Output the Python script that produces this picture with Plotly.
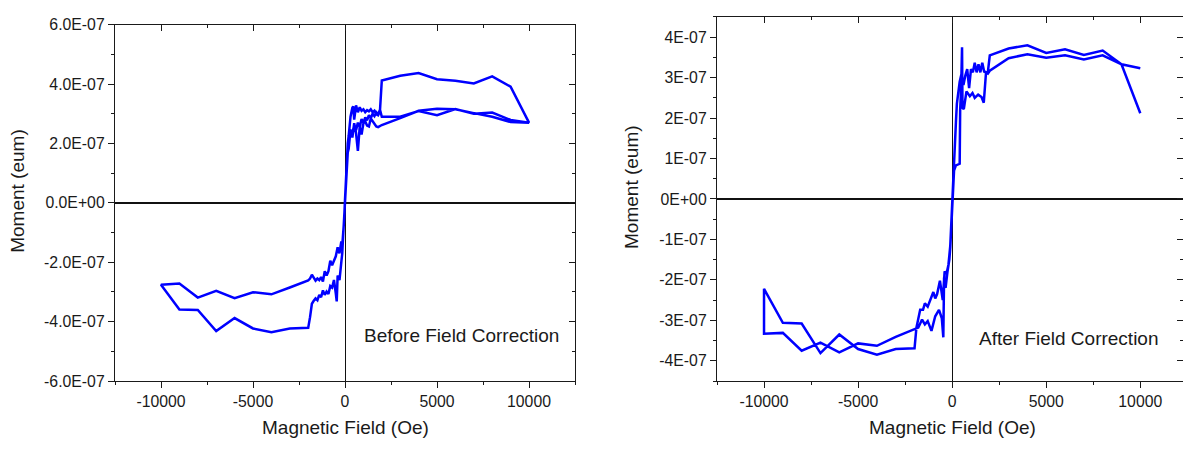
import numpy as np
import plotly.graph_objects as go

SCALE = 1e-7  # moment values below are in units of 1E-07 emu

# ---------------- Left panel: "Before Field Correction" ----------------
# pass A: initial curve 0 -> +10000 Oe
left_A_H = [0, 50, 100, 150, 200, 300, 400, 450, 500, 600, 700, 800, 900, 1000, 1100, 1200,
            1300, 1400, 1500, 1600, 1700, 1800, 1900, 2000, 3000, 4000, 5000, 6000, 7000,
            8000, 9000, 10000]
left_A_M = [0.0, 0.9, 1.6, 2.0, 2.25, 2.9, 3.2, 3.25, 2.8, 3.28, 3.05, 3.22, 3.1, 3.15, 3.05,
            3.12, 3.08, 3.15, 3.05, 3.1, 2.98, 2.95, 3.1, 4.12, 4.28, 4.37, 4.16, 4.11, 4.02,
            4.26, 3.91, 2.70]
# pass B: +10000 -> -10000 Oe
left_B_H = [10000, 9000, 8000, 7000, 6000, 5000, 4000, 3000, 2000,
            1900, 1800, 1700, 1600, 1500, 1400, 1300, 1200, 1100, 1000,
            900, 800, 700, 600, 500, 400, 300, 200,
            150, 100, 50, 0, -50, -100, -150, -200,
            -300, -400, -500, -600, -700, -800, -900, -1000,
            -1100, -1200, -1300, -1400, -1500, -1600, -1700, -1800, -1900, -2000,
            -3000, -4000, -5000, -6000, -7000, -8000, -9000, -10000]
left_B_M = [2.70, 2.79, 3.04, 3.00, 3.16, 2.95, 3.09, 2.90, 2.90,
            3.14, 2.98, 3.05, 2.92, 3.0, 2.85, 2.95, 2.78, 2.88, 2.7,
            2.82, 2.55, 2.7, 2.45, 2.62, 2.35, 2.45, 2.25,
            2.0, 1.5, 0.8, 0.1, -0.6, -1.2, -1.45, -1.3,
            -1.7, -1.5, -1.8, -1.95, -2.1, -1.95, -2.3, -2.45,
            -2.3, -2.65, -2.5, -2.6, -2.55, -2.62, -2.5, -2.42, -2.55, -2.61,
            -2.85, -3.08, -3.01, -3.21, -2.96, -3.19, -2.72, -2.76]
# pass C: -10000 -> +10000 Oe
left_C_H = [-10000, -9000, -8000, -7000, -6000, -5000, -4000, -3000, -2000,
            -1900, -1800, -1700, -1600, -1500, -1400, -1300, -1200, -1100, -1000,
            -900, -800, -700, -600, -500, -450, -400, -300, -200,
            -150, -100, -50, 0, 50, 100, 150, 200,
            300, 400, 500, 600, 700, 800, 900, 1000,
            1100, 1200, 1300, 1400, 1500, 1600, 1700, 1800, 1900, 2000,
            3000, 4000, 5000, 6000, 7000, 8000, 9000, 10000]
left_C_M = [-2.76, -3.59, -3.61, -4.32, -3.88, -4.23, -4.36, -4.23, -4.21,
            -3.85, -3.4, -3.3, -3.22, -3.28, -3.1, -3.18, -2.95, -3.1, -2.99,
            -3.07, -2.8, -2.85, -2.6, -3.05, -3.32, -2.45, -2.6, -2.0,
            -1.7, -1.1, -0.5, 0.2, 0.9, 1.4, 1.7, 1.82,
            2.46, 2.2, 2.68, 2.35, 1.75, 2.56, 2.3, 2.68,
            2.74, 2.6, 2.57, 2.84, 2.75, 2.68, 2.57, 2.55, 2.58, 2.62,
            2.85, 3.1, 3.17, 3.15, 3.02, 2.9, 2.72, 2.70]

# ---------------- Right panel: "After Field Correction" ----------------
right_B_H = [10000, 9000, 8000, 7000, 6000, 5000, 4000, 3000, 2000,
             1900, 1800, 1700, 1600, 1500, 1400, 1300, 1200, 1100, 1000,
             900, 800, 700, 600, 500, 400, 300, 250, 200,
             150, 100, 50, 0, -50, -100, -150, -200,
             -300, -400, -500, -650, -800, -900, -1000,
             -1100, -1300, -1450, -1550, -1700, -1800, -1900, -2000,
             -3000, -4000, -5000, -6000, -7000, -8000, -9000, -10000]
right_B_M = [2.12, 3.33, 3.67, 3.56, 3.70, 3.61, 3.80, 3.72, 3.55,
             3.15, 3.13, 3.15, 3.37, 3.13, 3.33, 3.13, 3.37, 3.13, 3.21,
             2.74, 3.21, 3.05, 2.82, 3.1, 2.9, 2.6, 2.35, 1.9,
             1.4, 0.9, 0.3, -0.3, -0.8, -1.15, -1.4, -1.63,
             -1.85, -1.79, -2.5, -2.02, -2.35, -2.46, -2.3,
             -2.42, -2.66, -2.58, -2.74, -2.74, -2.95, -3.18, -3.69,
             -3.71, -3.85, -3.71, -3.35, -3.81, -3.08, -3.06, -2.22]
right_C_H = [-10000, -9000, -8000, -7000, -6000, -5000, -4000, -3000, -2000,
             -1800, -1600, -1450, -1300, -1100, -900, -700, -550, -470, -430,
             -350, -250, -150, -100, -50, 0, 50, 100, 200,
             300, 400, 425, 475, 525, 550, 620, 760, 940,
             1080, 1200, 1380, 1560, 1680, 1800, 1900, 2000,
             3000, 4000, 5000, 6000, 7000, 8000, 9000, 10000]
right_C_M = [-3.33, -3.31, -3.75, -3.55, -3.79, -3.57, -3.63, -3.41, -3.21,
             -3.18, -2.98, -3.1, -3.02, -3.26, -2.9, -2.74, -2.95, -3.42, -1.94,
             -2.2, -1.8, -1.5, -1.2, -0.7, -0.1, 0.4, 0.7, 0.83,
             0.85, 0.87, 2.2, 2.7, 3.75, 2.25, 2.22, 2.66, 2.54,
             2.62, 2.5, 2.58, 2.52, 2.38, 3.13, 3.1, 3.17,
             3.48, 3.58, 3.49, 3.55, 3.45, 3.55, 3.33, 3.23]

# tick labels
x_tickvals = [-10000, -5000, 0, 5000, 10000]
x_ticktext = ["-10000", "-5000", "0", "5000", "10000"]
left_y_tickvals = [-6, -4, -2, 0, 2, 4, 6]
left_y_ticktext = ["-6.0E-07", "-4.0E-07", "-2.0E-07", "0.0E+00", "2.0E-07", "4.0E-07", "6.0E-07"]
right_y_tickvals = [-4, -3, -2, -1, 0, 1, 2, 3, 4]
right_y_ticktext = ["-4E-07", "-3E-07", "-2E-07", "-1E-07", "0E+00", "1E-07", "2E-07", "3E-07", "4E-07"]

titles = ["Before Field Correction", "After Field Correction"]

# ---------------- figure ----------------
W, Hh = 1183, 449
FONT = "Liberation Sans, Arial, sans-serif"
INK = "#1a1a1a"
BLUE = "#0000FF"

def px(p):
    return p / W

def py(p):
    return 1 - p / Hh

left_H = np.array(left_A_H + left_B_H + left_C_H, dtype=float)
left_M = np.array(left_A_M + left_B_M + left_C_M, dtype=float) * SCALE
right_H = np.array(right_B_H + right_C_H, dtype=float)
right_M = np.array(right_B_M + right_C_M, dtype=float) * SCALE

fig = go.Figure()
fig.add_trace(go.Scatter(x=left_H, y=left_M, mode="lines", xaxis="x", yaxis="y",
                         line=dict(color=BLUE, width=2.5), showlegend=False, hoverinfo="skip"))
fig.add_trace(go.Scatter(x=right_H, y=right_M, mode="lines", xaxis="x2", yaxis="y2",
                         line=dict(color=BLUE, width=2.5), showlegend=False, hoverinfo="skip"))
# empty traces so the mirrored (inside-tick) axes are rendered
fig.add_trace(go.Scatter(x=[None], y=[None], xaxis="x3", yaxis="y3", showlegend=False, hoverinfo="skip"))
fig.add_trace(go.Scatter(x=[None], y=[None], xaxis="x4", yaxis="y4", showlegend=False, hoverinfo="skip"))

LR = [-12500, 12500]
RR = [-12500, 12270]
LYR = [-6.0001e-7, 6.0001e-7]
RYR = [-4.5e-7, 4.5e-7]
xdomL = [px(115), px(575)]
xdomR = [px(717), 1.0]
ydomL = [py(387.7), py(17.3)]
ydomR = [py(387.7), py(9.3)]

x_minor = list(np.arange(-12500, 12501, 2500))
yl_minor = [round(v, 15) for v in np.arange(-6, 6.01, 1) * SCALE]
yr_minor = [round(v, 15) for v in np.arange(-4.5, 4.51, 0.5) * SCALE]

def xax(domain, rng, anchor, ticks, side, labels, zeroline, overlay=None):
    d = dict(domain=domain, range=rng, anchor=anchor, side=side, showgrid=False,
             showline=True, linecolor=INK, linewidth=1.3,
             tickmode="array", tickvals=x_tickvals, ticktext=x_ticktext,
             showticklabels=labels, ticks=ticks, ticklen=6, tickwidth=1.2, tickcolor=INK,
             minor=dict(tickmode="array", tickvals=x_minor, ticks=ticks, ticklen=3,
                        tickwidth=1.2, tickcolor=INK),
             zeroline=zeroline, zerolinecolor="#111111", zerolinewidth=1.2,
             fixedrange=True)
    if overlay:
        d["overlaying"] = overlay
    return d

def yax(domain, rng, anchor, ticks, side, labels, zeroline, tv, tt, minor, overlay=None):
    d = dict(domain=domain, range=rng, anchor=anchor, side=side, showgrid=False,
             showline=True, linecolor=INK, linewidth=1.3,
             tickmode="array", tickvals=[round(v * SCALE, 15) for v in tv], ticktext=tt,
             showticklabels=labels, ticks=ticks, ticklen=6, tickwidth=1.2, tickcolor=INK,
             minor=dict(tickmode="array", tickvals=minor, ticks=ticks, ticklen=3,
                        tickwidth=1.2, tickcolor=INK),
             zeroline=zeroline, zerolinecolor="#111111", zerolinewidth=1.6,
             fixedrange=True)
    if overlay:
        d["overlaying"] = overlay
    return d

fig.update_layout(
    width=W, height=Hh,
    margin=dict(l=0, r=0, t=0, b=0),
    paper_bgcolor="white", plot_bgcolor="white",
    font=dict(family=FONT, size=15.8, color=INK),
    xaxis=xax(xdomL, LR, "y", "outside", "bottom", True, True),
    yaxis=yax(ydomL, LYR, "x", "outside", "left", True, True, left_y_tickvals, left_y_ticktext, yl_minor),
    xaxis2=xax(xdomR, RR, "y2", "outside", "bottom", True, True),
    yaxis2=yax(ydomR, RYR, "x2", "outside", "left", True, True, right_y_tickvals, right_y_ticktext, yr_minor),
    xaxis3=xax(xdomL, LR, "y", "inside", "top", False, False, overlay="x"),
    yaxis3=yax(ydomL, LYR, "x", "inside", "right", False, False, left_y_tickvals, left_y_ticktext, yl_minor, overlay="y"),
    xaxis4=xax(xdomR, RR, "y2", "inside", "top", False, False, overlay="x2"),
    yaxis4=yax(ydomR, RYR, "x2", "inside", "right", False, False, right_y_tickvals, right_y_ticktext, yr_minor, overlay="y2"),
)

ann_font = dict(family=FONT, size=19, color=INK)
annotations = [
    dict(text="Moment (eum)", x=px(18), y=py(190), textangle=-90),
    dict(text="Moment (eum)", x=px(632), y=py(186), textangle=-90),
    dict(text="Magnetic Field (Oe)", x=px(345.7), y=py(436)),
    dict(text="Magnetic Field (Oe)", x=px(952.3), y=py(436)),
]
for a in annotations:
    fig.add_annotation(xref="paper", yref="paper", showarrow=False, xanchor="center",
                       yanchor="middle", font=ann_font, **a)
fig.add_annotation(text=titles[0], xref="paper", yref="paper", x=px(362), y=py(340.7),
                   xanchor="left", yanchor="middle", showarrow=False, font=ann_font)
fig.add_annotation(text=titles[1], xref="paper", yref="paper", x=px(977), y=py(343),
                   xanchor="left", yanchor="middle", showarrow=False, font=ann_font)

# remove the default 8px page margin so the figure sits exactly in the window
fig.write_html("out.html", config={"displayModeBar": False},
               post_script="document.body.style.margin='0';document.body.style.overflow='hidden';")
